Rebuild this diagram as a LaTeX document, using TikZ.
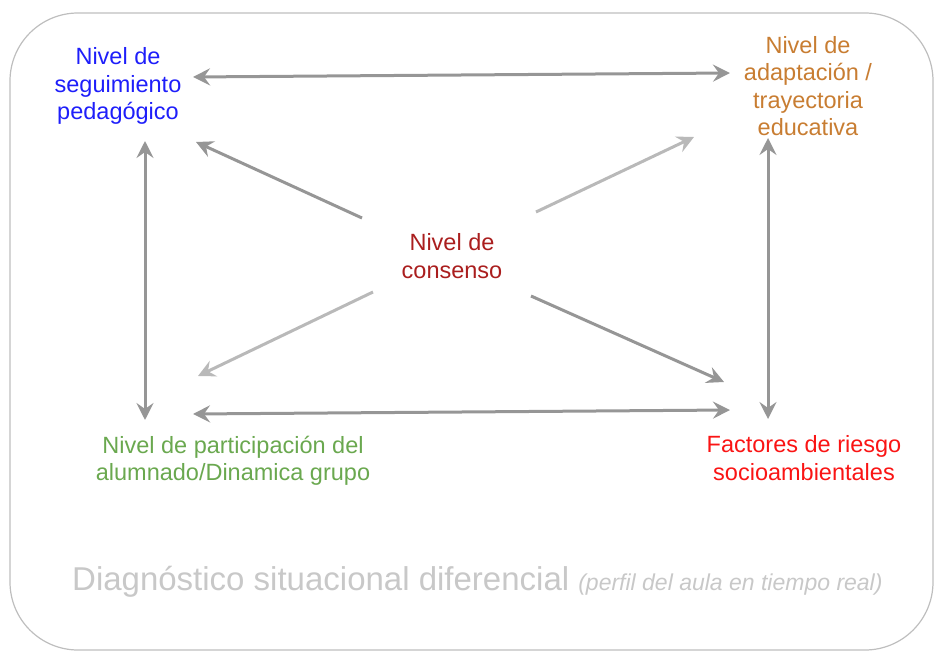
\documentclass[tikz,border=0pt]{standalone}
\usepackage{fontspec}
\setmainfont{Liberation Sans}
\usetikzlibrary{arrows.meta}
\definecolor{segblue}{RGB}{30,30,250}
\definecolor{adaporange}{RGB}{200,125,50}
\definecolor{consred}{RGB}{170,30,30}
\definecolor{partgreen}{RGB}{106,168,79}
\definecolor{riskred}{RGB}{250,20,20}
\definecolor{darkarrow}{RGB}{150,150,150}
\definecolor{lightarrow}{RGB}{185,185,185}
\definecolor{framegray}{RGB}{190,190,190}
\definecolor{titlegray}{RGB}{200,200,200}
\tikzset{
  lbl/.style={align=center, inner sep=0pt, font=\fontsize{23.5}{27.5}\selectfont},
  tip/.tip={Stealth[length=17pt,width=17pt,inset=6pt]},
  conn/.style={line width=3pt, tip-tip},
  oneway/.style={line width=3pt, -tip},
}
\begin{document}
\begin{tikzpicture}[x=1pt,y=-1pt]
\useasboundingbox (0,0) rectangle (936,652);
\draw[framegray, line width=1.2pt, rounded corners=68pt] (10,13) rectangle (933,650);

\node[lbl, text=segblue] (seg) at (118,86) {Nivel de\\seguimiento\\pedagógico};
\node[lbl, text=adaporange] (adap) at (808,86) {Nivel de\\adaptación /\\trayectoria\\educativa};
\node[lbl, text=consred] (cons) at (452,256) {Nivel de\\consenso};
\node[lbl, text=partgreen] (part) at (233,461) {Nivel de participación del\\alumnado/Dinamica grupo};
\node[lbl, text=riskred] (risk) at (804,458) {Factores de riesgo\\socioambientales};
\node[text=titlegray, inner sep=0pt, anchor=base west] (title) at (72,590)
  {\fontsize{33}{36}\selectfont Diagnóstico situacional diferencial\hspace{9pt}\fontsize{23}{26}\selectfont\textit{(perfil del aula en tiempo real)}};

% arrow end points
\coordinate (t1) at (193,77);  \coordinate (t2) at (730,73);
\coordinate (b1) at (193,414); \coordinate (b2) at (730,410);
\coordinate (l1) at (145,141); \coordinate (l2) at (145,420);
\coordinate (r1) at (768,138); \coordinate (r2) at (768,419);
\coordinate (ul0) at (362,218); \coordinate (ul) at (196,142);
\coordinate (ur0) at (536,212); \coordinate (ur) at (694,137);
\coordinate (dl0) at (373,292); \coordinate (dl) at (198,376);
\coordinate (dr0) at (531,296); \coordinate (dr) at (724,382);

\draw[conn, darkarrow] (t1) -- (t2);
\draw[conn, darkarrow] (b1) -- (b2);
\draw[conn, darkarrow] (l1) -- (l2);
\draw[conn, darkarrow] (r1) -- (r2);
\draw[oneway, darkarrow] (ul0) -- (ul);
\draw[oneway, lightarrow] (ur0) -- (ur);
\draw[oneway, lightarrow] (dl0) -- (dl);
\draw[oneway, darkarrow] (dr0) -- (dr);
\end{tikzpicture}
\end{document}
